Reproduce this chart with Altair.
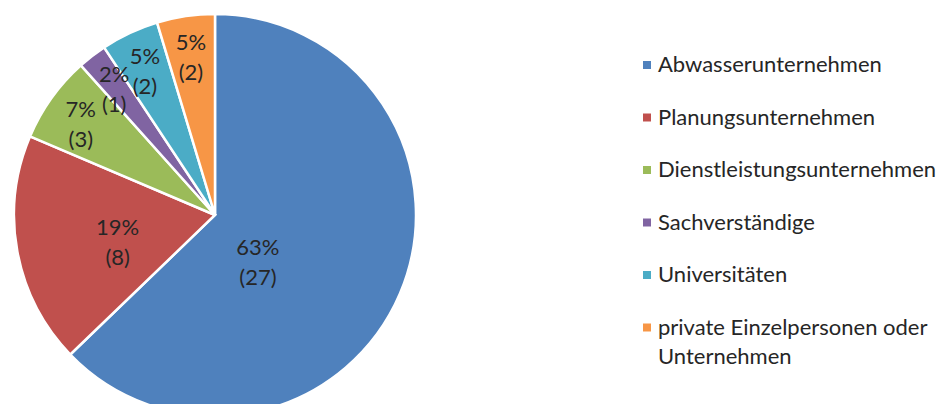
import altair as alt
import pandas as pd

categories = [
    "Abwasserunternehmen",
    "Planungsunternehmen",
    "Dienstleistungsunternehmen",
    "Sachverständige",
    "Universitäten",
    "private Einzelpersonen oder Unternehmen",
]
counts = [27, 8, 3, 1, 2, 2]
colors = ["#4F81BD", "#C0504D", "#9BBB59", "#8064A2", "#4BACC6", "#F79646"]

df = pd.DataFrame({"cat": categories, "n": counts, "idx": list(range(len(categories)))})

FONT = "Lato"
TXT = "#262626"

base = alt.Chart(df).transform_joinaggregate(total="sum(n)").transform_calculate(
    lab="round(datum.n / datum.total * 100) + '%\\n(' + datum.n + ')'"
)

theta = alt.Theta("n:Q", stack=True)
order = alt.Order("idx:Q", sort="ascending")
cx = alt.value(207)
cy = alt.value(207)

color = alt.Color(
    "cat:N",
    sort=categories,
    scale=alt.Scale(domain=categories, range=colors),
    legend=alt.Legend(
        title=None,
        orient="none",
        legendX=628,
        legendY=46,
        padding=0,
        symbolType="square",
        symbolSize=64,
        symbolStrokeWidth=0,
        labelFont=FONT,
        labelFontSize=22,
        labelColor=TXT,
        labelOffset=0,
        labelLimit=400,
        rowPadding=30.5,
        labelBaseline="middle",
        labelExpr="datum.label == 'private Einzelpersonen oder Unternehmen' ? ['private Einzelpersonen oder', 'Unternehmen'] : datum.label",
    ),
)

arcs = base.mark_arc(radius=201, stroke="white", strokeWidth=2.5).encode(
    theta=theta, order=order, color=color, x=cx, y=cy
)


def label_layer(cond, r, dx=0, dy=0):
    return base.mark_text(
        radius=r, font=FONT, fontSize=22, color=TXT, lineBreak="\n",
        lineHeight=30, dx=dx, dy=dy, align="center", baseline="middle",
    ).encode(
        theta=theta,
        order=order,
        text="lab:N",
        x=cx,
        y=cy,
        opacity=alt.condition(cond, alt.value(1), alt.value(0)),
    )


big = label_layer("datum.n >= 20", 64, dx=-16, dy=8)
mid = label_layer("datum.n >= 5 && datum.n < 20", 99, dy=-5)
small = label_layer("datum.n < 5", 165, dy=-9)

chart = (
    alt.layer(arcs, big, mid, small)
    .properties(width=932, height=396, autosize=alt.AutoSizeParams(type="none"), padding=0)
    .configure(
        view=alt.ViewConfig(strokeWidth=0, strokeOpacity=0),
        style={"guide-label": {"lineHeight": 29}},
    )
)

chart.save("out.html", embed_options={"renderer": "svg", "actions": False})
